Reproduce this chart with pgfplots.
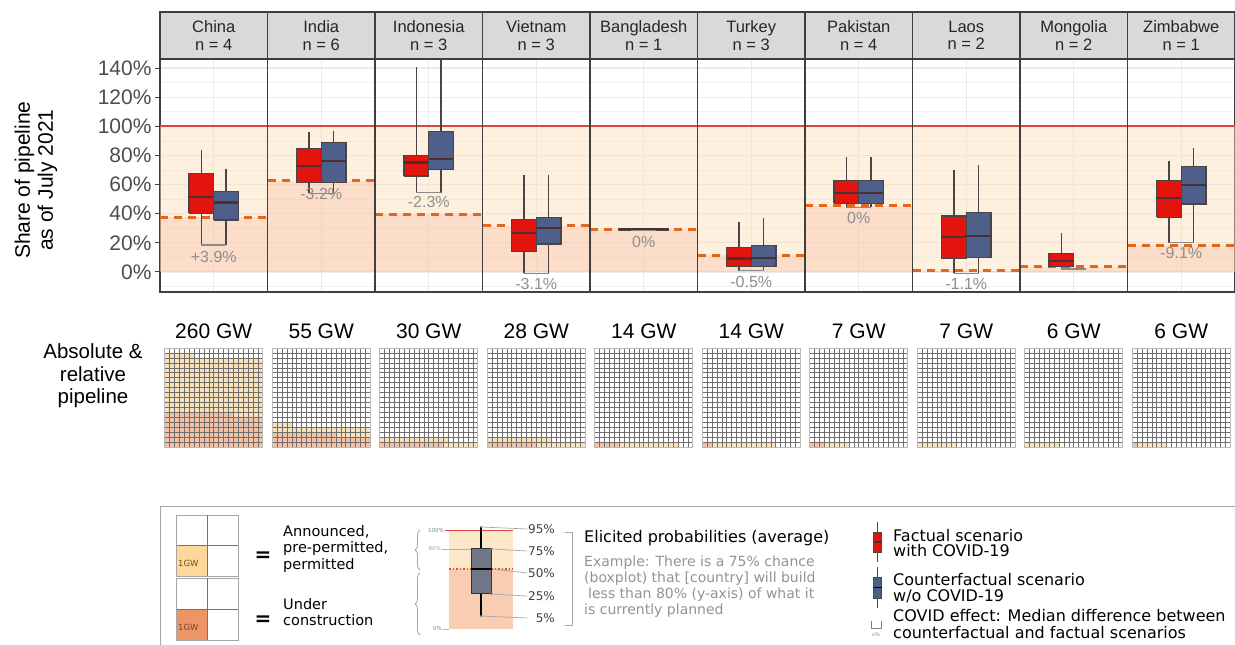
\documentclass[border=0pt]{standalone}
\usepackage{pgfplots}
\pgfplotsset{compat=1.18}
\usetikzlibrary{decorations.pathreplacing}
\usepackage{fontspec}
\setmainfont{Liberation Sans}
\newfontfamily\verd{DejaVu Sans}
\definecolor{boxred}{HTML}{E3140D}
\definecolor{boxblue}{HTML}{4E5F8C}
\definecolor{lightor}{HTML}{FBDDB8}
\definecolor{salmonc}{HTML}{F5A88A}
\definecolor{dashor}{HTML}{E2661C}
\definecolor{redline}{HTML}{D9463F}
\definecolor{framegrey}{HTML}{3F3F3F}
\definecolor{stripgrey}{HTML}{D9D9D9}
\definecolor{labgrey}{HTML}{8E8E8E}
\definecolor{tickgrey}{HTML}{4D4D4D}
\definecolor{gridgrey}{HTML}{EBEBEB}
\definecolor{boxline}{HTML}{4A4444}
\definecolor{medgrey}{HTML}{4A3030}
\definecolor{wlight}{HTML}{F8E2BC}
\definecolor{wsalmon}{HTML}{F3C1A6}
\definecolor{wgrid}{HTML}{6E6E6E}
\definecolor{brgrey}{HTML}{8A8A8A}
\definecolor{leglight}{HTML}{FDD89A}
\definecolor{legorange}{HTML}{EF9466}
\definecolor{exlight}{HTML}{FDE7C9}
\definecolor{exsalmon}{HTML}{F9CDB2}
\definecolor{exdot}{HTML}{D9541E}
\definecolor{exbox}{HTML}{6F7787}

% box: xleft, xcenter, xright, lw, q1, med, q3, uw, colour
\newcommand{\bx}[9]{%
\addplot[boxline, line width=1.3pt] coordinates {(#2,#4)(#2,#5)};
\addplot[boxline, line width=1.3pt] coordinates {(#2,#7)(#2,#8)};
\addplot[fill=#9, draw=boxline, line width=1.1pt] coordinates {(#1,#5)(#3,#5)(#3,#7)(#1,#7)(#1,#5)};
\addplot[medgrey, line width=2.2pt] coordinates {(#1,#6)(#3,#6)};}
% bracket: x1, x2, y
\newcommand{\br}[3]{\addplot[draw=brgrey, line width=1.3pt] coordinates {(#1,#3) (#2,#3)};}
% panel under-construction share: x0, x1, value
\newcommand{\uc}[3]{%
\addplot[fill=salmonc, fill opacity=0.26, draw=none] coordinates {(#1,0)(#2,0)(#2,#3)(#1,#3)};}
\newcommand{\ucl}[3]{%
\addplot[dashor, line width=3pt, dash pattern=on 8pt off 6pt] coordinates {(#1,#3)(#2,#3)};}

\newcommand{\waffle}[4]{%
\begin{axis}[at={({164.75pt+107.5pt*#1},198pt)}, anchor=south west, scale only axis,
  width=98pt, height=99pt, xmin=0, xmax=20, ymin=0, ymax=20,
  xtick={0,1,...,20}, ytick={0,1,...,20}, xticklabels={}, yticklabels={},
  major tick length=0pt, grid=major, grid style={draw=wgrid, line width=0.55pt},
  axis line style={draw=gray!55, line width=0.7pt}, axis on top, clip=false]
\addplot[fill=wlight, draw=none] coordinates {#3};
\addplot[fill=wsalmon, draw=none] coordinates {#4};
\node[anchor=south, font=\fontsize{21}{24}\selectfont, inner sep=0pt, yshift=9pt] at (rel axis cs:0.5,1) {#2};
\end{axis}}

\begin{document}
\begin{tikzpicture}
\useasboundingbox (0pt,0pt) rectangle (1235pt,645pt);

% ---------- main panel axis ----------
\begin{axis}[
  at={(160pt,353pt)}, anchor=south west, scale only axis,
  width=1075pt, height=233pt,
  xmin=0, xmax=10, ymin=-13.73, ymax=146.2,
  xtick={0.5,1.5,2.5,3.5,4.5,5.5,6.5,7.5,8.5,9.5}, xticklabels={},
  ytick={0,20,40,60,80,100,120,140}, yticklabels={0\%,20\%,40\%,60\%,80\%,100\%,120\%,140\%},
  minor ytick={-10,10,30,50,70,90,110,130},
  grid=both,
  major grid style={draw=gridgrey, line width=1.1pt},
  minor grid style={draw=gridgrey!70, line width=0.6pt},
  tick align=outside, ytick pos=left, major tick length=5pt, minor tick length=0pt,
  xtick style={draw=none},
  ytick style={draw=framegrey, line width=1pt},
  yticklabel style={font=\fontsize{21}{24}\selectfont, text=tickgrey},
  axis line style={draw=framegrey, line width=1.5pt},
  ylabel={Share of pipeline\\as of July 2021},
  ylabel style={align=center, font=\fontsize{21}{23}\selectfont, at={(axis description cs:-0.1153,0.48)}, anchor=center},
]
% shading
\addplot[fill=lightor, fill opacity=0.45, draw=none] coordinates {(0,0)(10,0)(10,100)(0,100)};
\uc{0}{1}{37.5}\uc{1}{2}{62.5}\uc{2}{3}{39.5}\uc{3}{4}{31.6}\uc{4}{5}{29.3}
\uc{5}{6}{11.4}\uc{6}{7}{45.5}\uc{7}{8}{0.7}\uc{8}{9}{3.6}\uc{9}{10}{18.5}
\addplot[redline, line width=2pt] coordinates {(0,100)(10,100)};
\ucl{0}{1}{37.5}\ucl{1}{2}{62.5}\ucl{2}{3}{39.5}\ucl{3}{4}{31.6}\ucl{4}{5}{29.3}
\ucl{5}{6}{11.4}\ucl{6}{7}{45.5}\ucl{7}{8}{0.7}\ucl{8}{9}{3.6}\ucl{9}{10}{18.5}
\pgfplotsinvokeforeach{1,...,9}{\draw[framegrey, line width=1.6pt] (axis cs:#1,-13.73) -- (axis cs:#1,146.2);}
% boxes
\bx{0.27}{0.385}{0.5}{18.5}{40.3}{51.7}{67.3}{83.7}{boxred}
\bx{0.5}{0.615}{0.73}{18.5}{35.7}{47.7}{55.4}{70.5}{boxblue}
\br{0.385}{0.615}{18.5}
\bx{1.27}{1.385}{1.5}{54}{61.3}{72.8}{84.9}{96.3}{boxred}
\bx{1.5}{1.615}{1.73}{54}{61.3}{76.0}{88.8}{96.5}{boxblue}
\br{1.385}{1.615}{54}
\bx{2.27}{2.385}{2.5}{54.4}{65.9}{75.2}{80.1}{141}{boxred}
\bx{2.5}{2.615}{2.73}{54.4}{70.5}{77.5}{96.3}{146.2}{boxblue}
\br{2.385}{2.615}{54.4}
\bx{3.27}{3.385}{3.5}{-0.9}{13.9}{27.0}{36.2}{66.6}{boxred}
\bx{3.5}{3.615}{3.73}{-0.9}{19.2}{30.1}{37.3}{66.6}{boxblue}
\br{3.385}{3.615}{-0.9}
\bx{4.27}{4.385}{4.5}{28.6}{28.8}{29.3}{29.8}{29.9}{boxred}
\bx{4.5}{4.615}{4.73}{28.6}{28.8}{29.3}{29.8}{29.9}{boxblue}
\br{4.385}{4.615}{28.6}
\bx{5.27}{5.385}{5.5}{0.9}{3.6}{9.2}{17.0}{34.5}{boxred}
\bx{5.5}{5.615}{5.73}{0.9}{3.6}{9.7}{18.1}{36.8}{boxblue}
\br{5.385}{5.615}{0.9}
\bx{6.27}{6.385}{6.5}{44.4}{47.1}{54.0}{62.7}{79.1}{boxred}
\bx{6.5}{6.615}{6.73}{44.4}{47.1}{54.0}{62.7}{79.1}{boxblue}
\br{6.385}{6.615}{44.4}
\bx{7.27}{7.385}{7.5}{-0.9}{9.1}{23.8}{38.4}{70.0}{boxred}
\bx{7.5}{7.615}{7.73}{-0.9}{10.1}{24.9}{41.0}{73.4}{boxblue}
\br{7.385}{7.615}{-0.9}
\bx{8.27}{8.385}{8.5}{2.1}{3.6}{7.5}{12.8}{26.5}{boxred}
\br{8.385}{8.615}{2.1}
\bx{9.27}{9.385}{9.5}{20.1}{37.5}{50.6}{62.7}{76.4}{boxred}
\bx{9.5}{9.615}{9.73}{20.1}{46.7}{59.7}{72.3}{84.9}{boxblue}
\br{9.385}{9.615}{20.1}
% COVID effect labels
\node[font=\fontsize{16}{18}\selectfont, text=labgrey, inner sep=0pt] at (axis cs:0.5,10.5) {+3.9\%};
\node[font=\fontsize{16}{18}\selectfont, text=labgrey, inner sep=0pt] at (axis cs:1.5,53.3) {-3.2\%};
\node[font=\fontsize{16}{18}\selectfont, text=labgrey, inner sep=0pt] at (axis cs:2.5,48.2) {-2.3\%};
\node[font=\fontsize{16}{18}\selectfont, text=labgrey, inner sep=0pt] at (axis cs:3.5,-8.2) {-3.1\%};
\node[font=\fontsize{16}{18}\selectfont, text=labgrey, inner sep=0pt] at (axis cs:4.5,20.8) {0\%};
\node[font=\fontsize{16}{18}\selectfont, text=labgrey, inner sep=0pt] at (axis cs:5.5,-6.7) {-0.5\%};
\node[font=\fontsize{16}{18}\selectfont, text=labgrey, inner sep=0pt] at (axis cs:6.5,36.9) {0\%};
\node[font=\fontsize{16}{18}\selectfont, text=labgrey, inner sep=0pt] at (axis cs:7.5,-8.2) {-1.1\%};
\node[font=\fontsize{16}{18}\selectfont, text=labgrey, inner sep=0pt] at (axis cs:9.5,12.8) {-9.1\%};
\end{axis}

% ---------- waffles ----------
\waffle{0}{260 GW}{(0,0)(0,19)(6,19)(6,18)(20,18)(20,0)}{(0,0)(0,7)(14,7)(14,6)(20,6)(20,0)}
\waffle{1}{55 GW}{(0,0)(0,5)(4,5)(4,4)(20,4)(20,0)}{(0,0)(0,3)(13,3)(13,2)(20,2)(20,0)}
\waffle{2}{30 GW}{(0,0)(0,2)(14,2)(14,1)(20,1)(20,0)}{(0,0)(0,1)(13,1)(13,0)}
\waffle{3}{28 GW}{(0,0)(0,2)(13,2)(13,1)(20,1)(20,0)}{(0,0)(0,1)(10,1)(10,0)}
\waffle{4}{14 GW}{(0,0)(0,1)(17,1)(17,0)}{(0,0)(0,1)(5,1)(5,0)}
\waffle{5}{14 GW}{(0,0)(0,1)(15,1)(15,0)}{(0,0)(0,1)(2,1)(2,0)}
\waffle{6}{7 GW}{(0,0)(0,1)(8,1)(8,0)}{(0,0)(0,1)(3,1)(3,0)}
\waffle{7}{7 GW}{(0,0)(0,1)(8,1)(8,0)}{(0,0)(0,0)}
\waffle{8}{6 GW}{(0,0)(0,1)(7,1)(7,0)}{(0,0)(0,0)}
\waffle{9}{6 GW}{(0,0)(0,1)(7,1)(7,0)}{(0,0)(0,1)(1,1)(1,0)}

\begin{scope}[x=1pt,y=1pt]
% ---------- strip headers ----------
\foreach \nm/\nn [count=\i from 0] in {China/4,India/6,Indonesia/3,Vietnam/3,Bangladesh/1,Turkey/3,Pakistan/4,Laos/2,Mongolia/2,Zimbabwe/1}{
  \draw[fill=stripgrey, draw=framegrey, line width=1.5pt] ({160+107.5*\i},586) rectangle ({267.5+107.5*\i},633);
  \node[align=center, font=\fontsize{16.5}{17.5}\selectfont, text=black!85, inner sep=0pt] at ({213.75+107.5*\i},609.5) {\nm\\n = \nn};
}
\node[align=center, font=\fontsize{20.5}{22.5}\selectfont, inner sep=0pt] at (93,269) {Absolute \&\\relative\\pipeline};

% ---------- legend ----------
\draw[gray!70, line width=1pt] (160,-5) rectangle (1240,138);
\fill[leglight] (176.7,69) rectangle (207.5,99.5);
\draw[gray!70, line width=0.8pt] (176.7,69) rectangle (238.3,130);
\draw[gray!90!black, line width=0.8pt] (207.5,69) -- (207.5,130) (176.7,99.5) -- (238.3,99.5);
\node[anchor=west, font=\verd\fontsize{8.5}{9}\selectfont, text=brown!60!black, inner sep=0pt] at (178,82) {1GW};
\fill[legorange] (176.7,5) rectangle (207.5,36);
\draw[gray!70, line width=0.8pt] (176.7,5) rectangle (238.3,67);
\draw[gray!90!black, line width=0.8pt] (207.5,5) -- (207.5,67) (176.7,36) -- (238.3,36);
\node[anchor=west, font=\verd\fontsize{8.5}{9}\selectfont, text=brown!60!black, inner sep=0pt] at (178,18) {1GW};
\node[font=\verd\bfseries\fontsize{20}{20}\selectfont, inner sep=0pt] at (263,88) {=};
\node[font=\verd\bfseries\fontsize{20}{20}\selectfont, inner sep=0pt] at (263,24) {=};
\node[anchor=west, align=left, font=\verd\fontsize{14.5}{16.5}\selectfont, inner sep=0pt] at (283,96) {Announced,\\pre-permitted,\\permitted};
\node[anchor=west, align=left, font=\verd\fontsize{14.5}{16}\selectfont, inner sep=0pt] at (283,32.5) {Under\\construction};
% boxplot explainer
\fill[exlight] (449,76) rectangle (513,114);
\fill[exsalmon] (449,16) rectangle (513,76);
\draw[redline, line width=1pt] (445,114) -- (513,114);
\draw[gray!60, line width=0.5pt] (442,96) -- (471,96);
\draw[gray!60, line width=0.5pt] (443,16) -- (449,16);
\draw[exdot, line width=1.5pt, dotted] (449,76) -- (513,76);
\node[font=\verd\fontsize{5.5}{6}\selectfont, text=gray, anchor=east, inner sep=1pt] at (445,114) {100\%};
\node[font=\verd\fontsize{5.5}{6}\selectfont, text=gray!70, anchor=east, inner sep=1pt] at (442,96) {80\%};
\node[font=\verd\fontsize{5.5}{6}\selectfont, text=gray, anchor=east, inner sep=1pt] at (443,16) {0\%};
\draw[black, line width=2pt] (481.3,96) -- (481.3,118) (481.3,51) -- (481.3,29);
\draw[fill=exbox, draw=black!80, line width=1pt] (471,51) rectangle (491.7,96);
\draw[black, line width=1.6pt] (471,76) -- (491.7,76);
\draw[gray!70, line width=0.7pt] (481.3,118) -- (527,116) (491.7,96) -- (527,94) (491.7,76) -- (527,72) (491.7,51) -- (527,49) (481.3,29) -- (527,27);
\fill[gray] (481.3,118) circle (1.2) (491.7,96) circle (1.2) (491.7,51) circle (1.2) (481.3,29) circle (1.2);
\node[anchor=east, font=\verd\fontsize{12}{13}\selectfont, text=black!75, inner sep=0pt] at (555,116) {95\%};
\node[anchor=east, font=\verd\fontsize{12}{13}\selectfont, text=black!75, inner sep=0pt] at (555,94) {75\%};
\node[anchor=east, font=\verd\fontsize{12}{13}\selectfont, text=black!75, inner sep=0pt] at (555,72) {50\%};
\node[anchor=east, font=\verd\fontsize{12}{13}\selectfont, text=black!75, inner sep=0pt] at (555,49) {25\%};
\node[anchor=east, font=\verd\fontsize{12}{13}\selectfont, text=black!75, inner sep=0pt] at (555,27) {5\%};
\draw[gray!70, line width=0.8pt, decorate, decoration={brace, amplitude=5pt}] (420,75) -- (420,115);
\draw[gray!70, line width=0.8pt, decorate, decoration={brace, amplitude=5pt}] (420,10) -- (420,72);
\draw[gray!70, line width=0.8pt] (565,113) -- (572,113) -- (572,20) -- (565,20);
\node[anchor=base west, font=\verd\fontsize{16}{18}\selectfont, inner sep=0pt] at (584,102) {Elicited probabilities (average)};
\node[anchor=base west, font=\verd\fontsize{14}{16}\selectfont, text=gray!85, inner sep=0pt] at (584,78) {Example: There is a 75\% chance};
\node[anchor=base west, font=\verd\fontsize{14}{16}\selectfont, text=gray!85, inner sep=0pt] at (584,62) {(boxplot) that [country] will build};
\node[anchor=base west, font=\verd\fontsize{14}{16}\selectfont, text=gray!85, inner sep=0pt] at (588,46) {less than 80\% (y-axis) of what it};
\node[anchor=base west, font=\verd\fontsize{14}{16}\selectfont, text=gray!85, inner sep=0pt] at (584,30) {is currently planned};
\draw[boxline, line width=1.2pt] (877.6,123) -- (877.6,83);
\draw[fill=boxred, draw=boxline, line width=0.7pt] (873.6,93) rectangle (881.6,113);
\draw[medgrey, line width=1.2pt] (873.6,103) -- (881.6,103);
\draw[boxline, line width=1.2pt] (877.6,78) -- (877.6,37);
\draw[fill=boxblue, draw=boxline, line width=0.7pt] (873.6,47) rectangle (881.6,68);
\draw[black, line width=1.2pt] (873.6,57.5) -- (881.6,57.5);
\draw[gray, line width=0.9pt] (871,24) -- (871,17) -- (881,17) -- (881,24);
\node[font=\verd\fontsize{5}{5}\selectfont, text=gray, inner sep=0pt] at (876,10) {x\%};
\node[anchor=base west, font=\verd\fontsize{16}{18}\selectfont, inner sep=0pt] at (893,103) {Factual scenario};
\node[anchor=base west, font=\verd\fontsize{16}{18}\selectfont, inner sep=0pt] at (893,88) {with COVID-19};
\node[anchor=base west, font=\verd\fontsize{16}{18}\selectfont, inner sep=0pt] at (893,59) {Counterfactual scenario};
\node[anchor=base west, font=\verd\fontsize{16}{18}\selectfont, inner sep=0pt] at (893,43) {w/o COVID-19};
\node[anchor=base west, font=\verd\fontsize{16}{18}\selectfont, inner sep=0pt] at (893,23) {COVID effect: Median difference between};
\node[anchor=base west, font=\verd\fontsize{16}{18}\selectfont, inner sep=0pt] at (893,6) {counterfactual and factual scenarios};
\end{scope}
\end{tikzpicture}
\end{document}
